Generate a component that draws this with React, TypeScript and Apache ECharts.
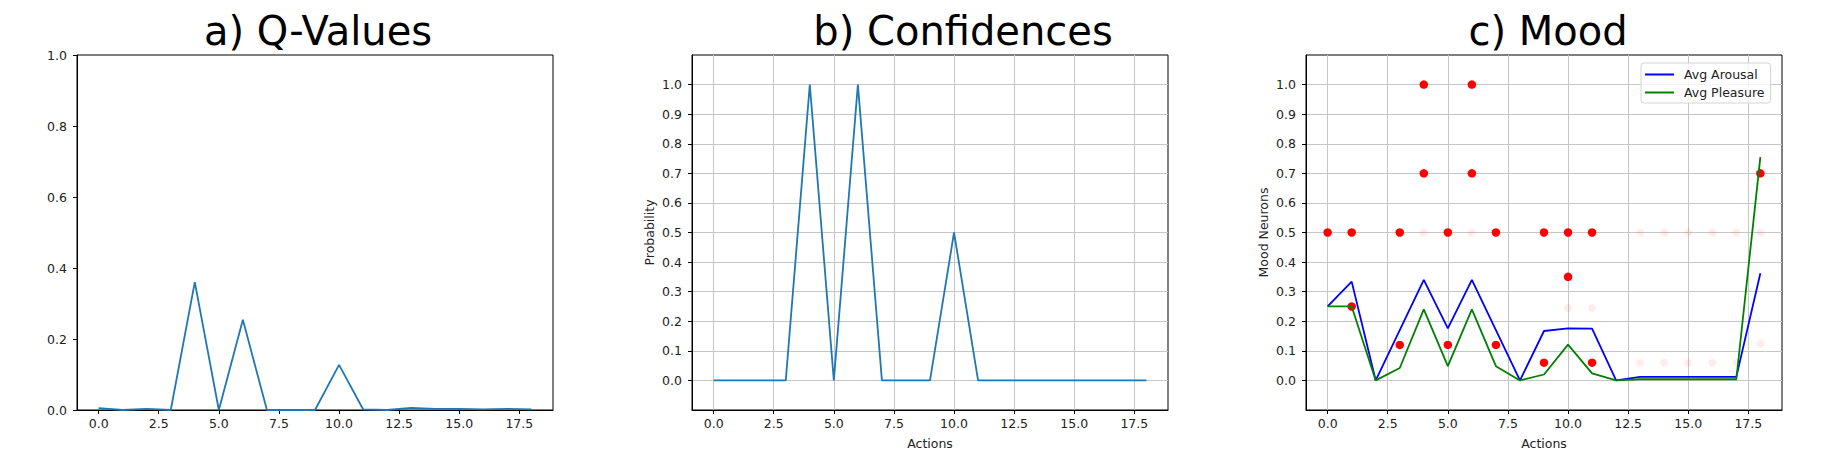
import React, { useEffect, useRef } from "react";
import * as echarts from "echarts";

// ---- data ----
const actions = [0, 1, 2, 3, 4, 5, 6, 7, 8, 9, 10, 11, 12, 13, 14, 15, 16, 17, 18];
const qValues = [0.005, 0, 0.003, 0, 0.36, 0, 0.254, 0, 0, 0, 0.127, 0.002, 0, 0.006, 0.003, 0.003, 0.002, 0.003, 0.002];
const confidences = [0, 0, 0, 0, 1, 0, 1, 0, 0, 0, 0.5, 0, 0, 0, 0, 0, 0, 0, 0];
const avgArousal = [0.25, 0.334, 0, 0.17, 0.34, 0.176, 0.34, 0.17, 0, 0.167, 0.176, 0.175, 0, 0.012, 0.012, 0.012, 0.012, 0.012, 0.362];
const avgPleasure = [0.25, 0.25, 0, 0.042, 0.24, 0.048, 0.24, 0.048, 0, 0.02, 0.121, 0.024, 0, 0.004, 0.004, 0.004, 0.004, 0.004, 0.755];
const neuronX = [0, 1, 1, 3, 3, 4, 4, 5, 5, 6, 6, 7, 7, 9, 9, 10, 10, 11, 11, 18];
const neuronY = [0.5, 0.5, 0.25, 0.5, 0.12, 1, 0.7, 0.5, 0.12, 1, 0.7, 0.5, 0.12, 0.5, 0.06, 0.5, 0.35, 0.5, 0.06, 0.7];
const faintX = [4, 6, 10, 11, 13, 14, 15, 16, 17, 18, 13, 14, 15, 16, 17, 18];
const faintY = [0.5, 0.5, 0.245, 0.245, 0.5, 0.5, 0.5, 0.5, 0.5, 0.5, 0.06, 0.06, 0.06, 0.06, 0.06, 0.124];
const xTicks = [0, 2.5, 5, 7.5, 10, 12.5, 15, 17.5];
const yTicksA = [0, 0.2, 0.4, 0.6, 0.8, 1.0];
const yTicksBC = [0, 0.1, 0.2, 0.3, 0.4, 0.5, 0.6, 0.7, 0.8, 0.9, 1.0];
const titles = ["a) Q-Values", "b) Confidences", "c) Mood"];

const FONT = "DejaVu Sans";
const gridLefts = [77, 692, 1306];
const titleCenters = [313, 958, 1543];

function App() {
  const ref = useRef<HTMLDivElement>(null);
  useEffect(() => {
    if (!ref.current) return;
    const chart = echarts.init(ref.current, null, { renderer: "svg" });
    const labelStyle = { color: "#222", fontFamily: FONT, fontSize: 12.5 };
    const gridLine = { show: true, lineStyle: { color: "#c6c6c6", width: 1 } };
    const pairs = (ys: number[]) => actions.map((x, i) => [x, ys[i]]);

    const xAxes = [0, 1, 2].map((g) => ({
      type: "value",
      gridIndex: g,
      min: -0.9,
      max: 18.9,
      axisLine: { show: true, onZero: false, lineStyle: { color: "#000", width: 1 } },
      axisTick: { show: true, customValues: xTicks, length: 4, lineStyle: { color: "#000" } },
      axisLabel: { ...labelStyle, customValues: xTicks, margin: 7, formatter: (v: number) => v.toFixed(1) },
      splitLine: g === 0 ? { show: false } : gridLine,
      name: g === 0 ? "" : "Actions",
      nameLocation: "middle",
      nameGap: 27,
      nameTextStyle: { color: "#222", fontFamily: FONT, fontSize: 12.5 },
    }));
    const yAxes = [0, 1, 2].map((g) => ({
      type: "value",
      gridIndex: g,
      min: g === 0 ? 0 : -0.1,
      max: g === 0 ? 1 : 1.1,
      interval: g === 0 ? 0.2 : 0.1,
      axisLine: { show: true, onZero: false, lineStyle: { color: "#000", width: 1 } },
      axisTick: { show: true, customValues: g === 0 ? yTicksA : yTicksBC, length: 4, lineStyle: { color: "#000" } },
      axisLabel: { ...labelStyle, customValues: g === 0 ? yTicksA : yTicksBC, margin: 10, formatter: (v: number) => v.toFixed(1) },
      splitLine: g === 0 ? { show: false } : gridLine,
      name: g === 0 ? "" : g === 1 ? "Probability" : "Mood Neurons",
      nameLocation: "middle",
      nameGap: 36,
      nameTextStyle: { color: "#222", fontFamily: FONT, fontSize: 12.5 },
    }));

    chart.setOption({
      animation: false,
      backgroundColor: "#fff",
      textStyle: { fontFamily: FONT },
      title: titles.map((t, i) => ({
        text: t,
        left: titleCenters[i],
        top: 6,
        textAlign: "center",
        textStyle: { fontFamily: FONT, fontSize: 40, fontWeight: "normal", color: "#000" },
      })),
      grid: gridLefts.map((l) => ({
        left: l,
        top: 55,
        width: 476,
        height: 355,
        show: true,
        borderColor: "#000",
        borderWidth: 1,
        backgroundColor: "transparent",
      })),
      xAxis: xAxes,
      yAxis: yAxes,
      legend: {
        orient: "vertical",
        left: 1641,
        top: 63,
        data: ["Avg Arousal", "Avg Pleasure"],
        icon: "rect",
        itemWidth: 29,
        itemHeight: 2,
        itemGap: 5,
        padding: [5, 6, 4, 4],
        backgroundColor: "rgba(255,255,255,0.8)",
        borderColor: "#d4d4d4",
        borderWidth: 1,
        borderRadius: 3,
        textStyle: { color: "#222", fontFamily: FONT, fontSize: 12.5, padding: [0, 0, 0, 5] },
      },
      series: [
        {
          type: "line",
          xAxisIndex: 0,
          yAxisIndex: 0,
          data: pairs(qValues),
          symbol: "none",
          lineStyle: { color: "#1f77b4", width: 1.8 },
          itemStyle: { color: "#1f77b4" },
        },
        {
          type: "line",
          xAxisIndex: 1,
          yAxisIndex: 1,
          data: pairs(confidences),
          symbol: "none",
          lineStyle: { color: "#1f77b4", width: 1.8 },
          itemStyle: { color: "#1f77b4" },
        },
        {
          type: "scatter",
          xAxisIndex: 2,
          yAxisIndex: 2,
          data: faintX.map((x, i) => [x, faintY[i]]),
          symbolSize: 8,
          itemStyle: { color: "rgba(255,0,0,0.07)", opacity: 1 },
          z: 2,
        },
        {
          type: "scatter",
          xAxisIndex: 2,
          yAxisIndex: 2,
          data: neuronX.map((x, i) => [x, neuronY[i]]),
          symbolSize: 8.5,
          itemStyle: { color: "#ff0000", opacity: 1 },
          z: 2,
        },
        {
          name: "Avg Arousal",
          type: "line",
          xAxisIndex: 2,
          yAxisIndex: 2,
          data: pairs(avgArousal),
          symbol: "none",
          lineStyle: { color: "#0000ff", width: 1.8 },
          itemStyle: { color: "#0000ff" },
          z: 3,
        },
        {
          name: "Avg Pleasure",
          type: "line",
          xAxisIndex: 2,
          yAxisIndex: 2,
          data: pairs(avgPleasure),
          symbol: "none",
          lineStyle: { color: "#008000", width: 1.8 },
          itemStyle: { color: "#008000" },
          z: 3,
        },
      ],
    });
    return () => chart.dispose();
  }, []);
  return (
    <div
      ref={ref}
      style={{ position: "absolute", left: 0, top: 0, width: 1843, height: 461, background: "#fff" }}
    />
  );
}

export default App;
